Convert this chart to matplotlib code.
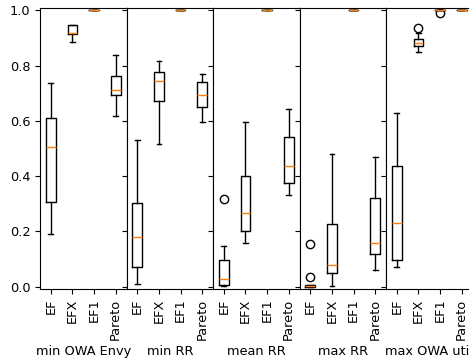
import matplotlib
matplotlib.use("Agg")
import matplotlib.pyplot as plt

plt.rcParams["font.size"] = 9.3

categories = ["EF", "EFX", "EF1", "Pareto"]
panels = ["min OWA Envy", "min RR", "mean RR", "max RR", "max OWA util"]

# per panel, per category: whislo, q1, median, q3, whishi
whislo = [
    [0.19, 0.886, 1.0, 0.619],
    [0.011, 0.517, 1.0, 0.595],
    [0.002, 0.158, 1.0, 0.332],
    [0.0, 0.002, 1.0, 0.06],
    [0.072, 0.849, 1.0, 1.0],
]
q1 = [
    [0.306, 0.915, 1.0, 0.694],
    [0.071, 0.671, 1.0, 0.652],
    [0.005, 0.203, 1.0, 0.377],
    [0.0, 0.048, 1.0, 0.118],
    [0.097, 0.873, 1.0, 1.0],
]
med = [
    [0.507, 0.918, 1.0, 0.712],
    [0.18, 0.746, 1.0, 0.694],
    [0.027, 0.268, 1.0, 0.438],
    [0.002, 0.077, 1.0, 0.157],
    [0.232, 0.881, 1.0, 1.0],
]
q3 = [
    [0.611, 0.947, 1.0, 0.763],
    [0.302, 0.778, 1.0, 0.742],
    [0.097, 0.40, 1.0, 0.541],
    [0.005, 0.227, 1.0, 0.32],
    [0.438, 0.896, 1.0, 1.0],
]
whishi = [
    [0.737, 0.947, 1.0, 0.839],
    [0.53, 0.816, 1.0, 0.769],
    [0.147, 0.596, 1.0, 0.643],
    [0.005, 0.479, 1.0, 0.471],
    [0.628, 0.92, 1.0, 1.0],
]
fliers = [
    [[], [], [], []],
    [[], [], [], []],
    [[0.316], [], [], []],
    [[0.155, 0.034], [], [], []],
    [[], [0.938], [0.99], []],
]

fig = plt.figure(figsize=(4.69, 3.6), dpi=100)
left, width = 40 / 469, 86.5 / 469
bottom, height = 71 / 360, 281 / 360

axes = []
for i, name in enumerate(panels):
    ax = fig.add_axes([left + i * width, bottom, width, height],
                      sharey=axes[0] if axes else None)
    stats = []
    for j, cat in enumerate(categories):
        stats.append(dict(label=cat, whislo=whislo[i][j], q1=q1[i][j],
                          med=med[i][j], q3=q3[i][j], whishi=whishi[i][j],
                          fliers=fliers[i][j]))
    ax.bxp(stats)
    ax.set_xticks(range(1, 5))
    ax.set_xticklabels(categories, rotation=90)
    ax.set_xlabel(name)
    if i > 0:
        ax.tick_params(labelleft=False)
    axes.append(ax)

axes[0].set_ylim(-0.0085, 1.009)
axes[0].set_yticks([0.0, 0.2, 0.4, 0.6, 0.8, 1.0])

fig.savefig("out.png", dpi=100)
